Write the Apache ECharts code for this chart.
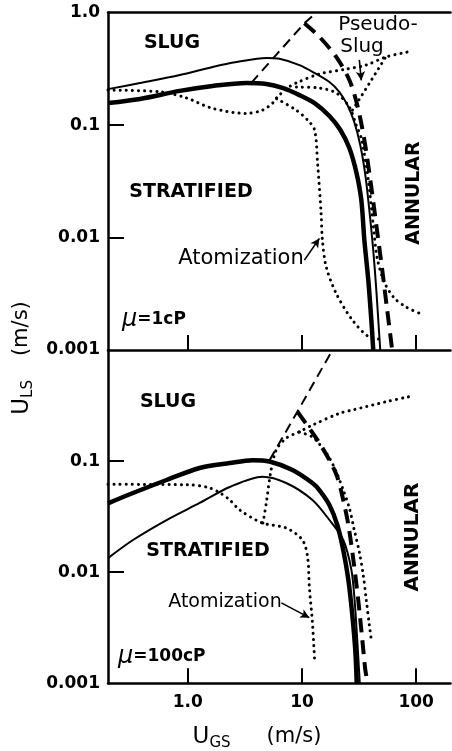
<!DOCTYPE html>
<html>
<head>
<meta charset="utf-8">
<script src="https://cdn.jsdelivr.net/npm/echarts@6/dist/echarts.min.js"></script>
<style>
  html, body { margin: 0; padding: 0; background: #fff; }
  #chart { width: 452px; height: 751px; }
</style>
</head>
<body>
<div id="chart"></div>
<script>
// ---- Axis ticks and labels ----
const xTicks = [1, 10, 100];
const xTickLabels = ['1.0', '10', '100'];
const yTicksTop = [1, 0.1, 0.01, 0.001];
const yTickLabelsTop = ['1.0', '0.1', '0.01', '0.001'];
const yTicksBottom = [0.1, 0.01, 0.001];
const yTickLabelsBottom = ['0.1', '0.01', '0.001'];
const yInnerTicks = [0.1, 0.01];

// ---- Upper panel: mu = 1 cP  ([U_GS, U_LS] in m/s) ----
const thinSolidTop = [[0.2,0.209],[0.381,0.237],[0.851,0.279],[1.65,0.329],[2.68,0.364],[4.9,0.3955],[6.36,0.389],[9.51,0.342],[12.9,0.291],[17.4,0.2415],[21.3,0.197],[25.0,0.151],[28.7,0.1066],[32.4,0.0665],[35.9,0.0359],[38.9,0.0176],[42.1,0.00774],[44.8,0.00341],[46.6,0.00185],[48.5,0.001]];
const thickSolidTop = [[0.2,0.157],[0.381,0.171],[0.851,0.2016],[1.65,0.223],[3.27,0.237],[4.87,0.232],[6.75,0.214],[9.51,0.185],[12.9,0.157],[17.4,0.1205],[21.7,0.0905],[26.0,0.0626],[29.9,0.0383],[33.1,0.0216],[35.2,0.0095],[38.1,0.00419],[40.5,0.00185],[42.1,0.001]];
const thinDashTop = [[3.6,0.238],[10.5,0.805],[13.3,1.0]];
const thickDashTop = [[10.5,0.805],[14.2,0.611],[19.9,0.406],[26.0,0.252],[30.5,0.151],[35.2,0.0737],[39.7,0.0325],[44.8,0.0129],[50.5,0.00514],[55.8,0.00226],[61.7,0.001]];
const dotUpperTop = [[0.2,0.205],[0.57,0.198],[0.95,0.176],[1.65,0.141],[3.26,0.127],[4.52,0.136],[5.53,0.157],[6.11,0.179],[7.78,0.22],[8.9,0.237],[14.2,0.285],[24.3,0.315],[36.4,0.342],[54.4,0.404],[86.9,0.45]];
const dotAtomTop = [[6.0,0.172],[8.9,0.136],[11.2,0.111],[12.9,0.0905],[13.7,0.046],[14.7,0.0165],[15.1,0.0095],[16.3,0.0055],[19.9,0.0032],[27.6,0.00185],[38.9,0.0013],[50,0.00125]];
const dotRightTop = [[8.95,0.218],[14.2,0.214],[20.0,0.193],[26.0,0.145],[29.9,0.100],[33.4,0.0737],[38.1,0.0325],[42.1,0.0129],[45.6,0.00657],[52.6,0.00402],[64.3,0.0029],[81.8,0.00241],[106,0.00213]];
const dotPseudoTop = [[27.7,0.136],[38.9,0.235],[54.4,0.406]];
const atomArrowTop = [[10.5,0.0063],[14.2,0.0098]];
const pseudoArrow = [[31.8,0.38],[33.1,0.25]];

// ---- Lower panel: mu = 100 cP ----
const thickSolidBot = [[0.2,0.0417],[0.331,0.0516],[0.652,0.0676],[1.27,0.0867],[2.33,0.0961],[3.70,0.102],[5.20,0.0992],[8.26,0.0832],[12.35,0.0635],[14.2,0.0549],[17.4,0.0403],[20.4,0.0266],[23.0,0.0158],[25.5,0.0085],[27.6,0.00412],[29.3,0.0020],[30.2,0.001]];
const thinSolidBot = [[0.2,0.0134],[0.331,0.0195],[0.652,0.0295],[1.27,0.042],[2.33,0.0585],[4.52,0.0724],[7.28,0.0635],[12.35,0.0447],[17.4,0.0295],[23.0,0.0195],[27.1,0.0105],[28.9,0.00562],[30.5,0.00245],[32.1,0.001]];
const thinDashBot = [[5.2,0.102],[9.14,0.28],[18.5,1.0]];
const thickDashBot = [[9.14,0.278],[13.65,0.155],[17.4,0.102],[20.4,0.0719],[23.0,0.0447],[25.5,0.0266],[28.2,0.0129],[31.1,0.00562],[33.8,0.00245],[35.9,0.00132],[37.7,0.001]];
const dotAtomBot = [[0.2,0.0618],[1.0,0.0612],[1.5,0.058],[1.9,0.052],[2.33,0.0447],[2.85,0.0363],[4.52,0.0277],[7.28,0.025],[10.1,0.0195],[11.2,0.0137],[11.6,0.0074],[12.35,0.0035],[12.9,0.0016]];
const dotUpperBot = [[4.55,0.0277],[4.87,0.042],[5.31,0.0781],[5.95,0.126],[7.28,0.161],[9.51,0.184],[12.35,0.211],[21.3,0.269],[27.6,0.288],[54.4,0.342],[86.9,0.38]];
const dotRightBot = [[9.51,0.183],[12.35,0.165],[14.2,0.1425],[17.4,0.1066],[20.0,0.0798],[23.0,0.0549],[26.0,0.0378],[28.7,0.024],[31.8,0.0152],[34.4,0.00944],[36.6,0.00562],[38.9,0.00335],[40.5,0.00245]];
const atomArrowBot = [[6.6,0.0053],[11.6,0.0039]];

// ---- Styles ----
const INK = '#000';
const FONT = 'DejaVu Sans';
const THIN = { color: INK, width: 2, type: 'solid' };
const THICK = { color: INK, width: 4.5, type: 'solid' };
const DASH = { color: INK, width: 2, type: [10, 6] };
const THICK_DASH = { color: INK, width: 4, type: [14, 8] };
const DOT = { color: INK, width: 3, type: [0.1, 6], cap: 'round' };

function labelFor(vals, labels) {
  return function (v) {
    const i = vals.findIndex(t => Math.abs(Math.log10(t) - Math.log10(v)) < 1e-6);
    return i >= 0 ? labels[i] : '';
  };
}

function curve(data, panel, style, smooth) {
  return {
    type: 'line', data: data,
    xAxisIndex: panel === 0 ? 0 : 2, yAxisIndex: panel,
    symbol: 'none', showSymbol: false,
    smooth: smooth === undefined ? 0.3 : smooth,
    lineStyle: style, silent: true, clip: true, z: 3
  };
}

function arrow(pts, panel) {
  return {
    type: 'line', data: [], xAxisIndex: panel === 0 ? 0 : 2, yAxisIndex: panel,
    symbol: 'none', silent: true,
    markLine: {
      silent: true, animation: false,
      symbol: ['none', 'arrow'], symbolSize: [7, 9],
      label: { show: false },
      lineStyle: { color: INK, width: 1.6, type: 'solid' },
      data: [[{ coord: pts[0] }, { coord: pts[1] }]]
    }
  };
}

const axisLine = { show: true, onZero: false, lineStyle: { color: INK, width: 2.5 } };
const tickLabelStyle = { color: INK, fontSize: 17, fontWeight: 'bold', fontFamily: FONT };

function xAx(grid, pos, withTicks, withLabels) {
  return {
    gridIndex: grid, type: 'log', min: 0.2, max: 200, position: pos,
    axisLine: axisLine,
    axisTick: { show: withTicks, inside: true, length: 15, customValues: xTicks, lineStyle: { color: INK, width: 2 } },
    axisLabel: Object.assign({ show: withLabels, customValues: xTicks, margin: 11, formatter: labelFor(xTicks, xTickLabels) }, tickLabelStyle),
    splitLine: { show: false }, minorTick: { show: false }, minorSplitLine: { show: false }
  };
}

function yAx(grid, vals, labels) {
  return {
    gridIndex: grid, type: 'log', min: 0.001, max: 1,
    axisLine: axisLine,
    axisTick: { show: true, inside: true, length: 16, customValues: yInnerTicks, lineStyle: { color: INK, width: 2 } },
    axisLabel: Object.assign({ show: true, customValues: vals, margin: 8, formatter: labelFor(vals, labels) }, tickLabelStyle),
    splitLine: { show: false }, minorTick: { show: false }, minorSplitLine: { show: false }
  };
}

function txt(x, y, text, size, weight, opts) {
  return Object.assign({
    type: 'text', x: x, y: y, z: 10, silent: true,
    style: { text: text, fill: INK, fontSize: size, fontWeight: weight, fontFamily: FONT, align: 'center', verticalAlign: 'middle' }
  }, opts || {});
}

// axis title with a subscript and a wide gap before the unit
function titleRich(gap) {
  return {
    u: { fontSize: 23, fontFamily: FONT, fill: INK, lineHeight: 28, verticalAlign: 'middle' },
    s: { fontSize: 15, fontFamily: FONT, fill: INK, verticalAlign: 'bottom' },
    g: { width: gap },
    m: { fontSize: 21, fontFamily: FONT, fill: INK, verticalAlign: 'middle' }
  };
}

const chart = echarts.init(document.getElementById('chart'), null, { renderer: 'canvas' });
chart.setOption({
  animation: false,
  backgroundColor: '#fff',
  grid: [
    { left: 108, top: 12.7, width: 342.5, height: 337.3 },
    { left: 108, top: 350, width: 342.5, height: 333.3 }
  ],
  xAxis: [
    xAx(0, 'bottom', true, false),
    xAx(0, 'top', false, false),
    xAx(1, 'bottom', true, true)
  ],
  yAxis: [
    yAx(0, yTicksTop, yTickLabelsTop),
    yAx(1, yTicksBottom, yTickLabelsBottom)
  ],
  series: [
    curve(thinSolidTop, 0, THIN),
    curve(thickSolidTop, 0, THICK),
    curve(thinDashTop, 0, DASH, false),
    curve(thickDashTop, 0, THICK_DASH),
    curve(dotUpperTop, 0, DOT),
    curve(dotAtomTop, 0, DOT),
    curve(dotRightTop, 0, DOT),
    curve(dotPseudoTop, 0, DOT),
    arrow(atomArrowTop, 0),
    arrow(pseudoArrow, 0),
    curve(thickSolidBot, 1, THICK),
    curve(thinSolidBot, 1, THIN),
    curve(thinDashBot, 1, DASH, false),
    curve(thickDashBot, 1, THICK_DASH),
    curve(dotAtomBot, 1, DOT),
    curve(dotUpperBot, 1, DOT),
    curve(dotRightBot, 1, DOT),
    arrow(atomArrowBot, 1)
  ],
  graphic: [
    // upper panel region names
    txt(172, 43, 'SLUG', 19, 'bold'),
    txt(191, 192, 'STRATIFIED', 19, 'bold'),
    txt(241, 259, 'Atomization', 21, 'normal'),
    txt(378, 25, 'Pseudo-', 20, 'normal'),
    txt(362, 47, 'Slug', 20, 'normal'),
    txt(414, 193, 'ANNULAR', 19, 'bold', { rotation: Math.PI / 2 }),
    { type: 'text', x: 122, y: 320, z: 10, silent: true,
      style: { text: '{m|μ}{t|=1cP}', verticalAlign: 'middle', align: 'left',
        rich: { m: { fontSize: 24, fontStyle: 'italic', fontFamily: FONT, fill: INK },
                t: { fontSize: 17, fontWeight: 'bold', fontFamily: FONT, fill: INK } } } },
    // lower panel region names
    txt(168, 402, 'SLUG', 19, 'bold'),
    txt(208, 551, 'STRATIFIED', 19, 'bold'),
    txt(225, 602, 'Atomization', 19, 'normal'),
    txt(413, 537, 'ANNULAR', 20, 'bold', { rotation: Math.PI / 2 }),
    { type: 'text', x: 118, y: 657, z: 10, silent: true,
      style: { text: '{m|μ}{t|=100cP}', verticalAlign: 'middle', align: 'left',
        rich: { m: { fontSize: 24, fontStyle: 'italic', fontFamily: FONT, fill: INK },
                t: { fontSize: 17, fontWeight: 'bold', fontFamily: FONT, fill: INK } } } },
    // axis titles
    { type: 'text', x: 22, y: 358, rotation: Math.PI / 2, z: 10, silent: true,
      style: { text: '{u|U}{s|LS}{g| }{m|(m/s)}', align: 'center', verticalAlign: 'middle', rich: titleRich(24) } },
    { type: 'text', x: 257, y: 737, z: 10, silent: true,
      style: { text: '{u|U}{s|GS}{g| }{m|(m/s)}', align: 'center', verticalAlign: 'middle', rich: titleRich(36) } }
  ]
});
</script>
</body>
</html>
